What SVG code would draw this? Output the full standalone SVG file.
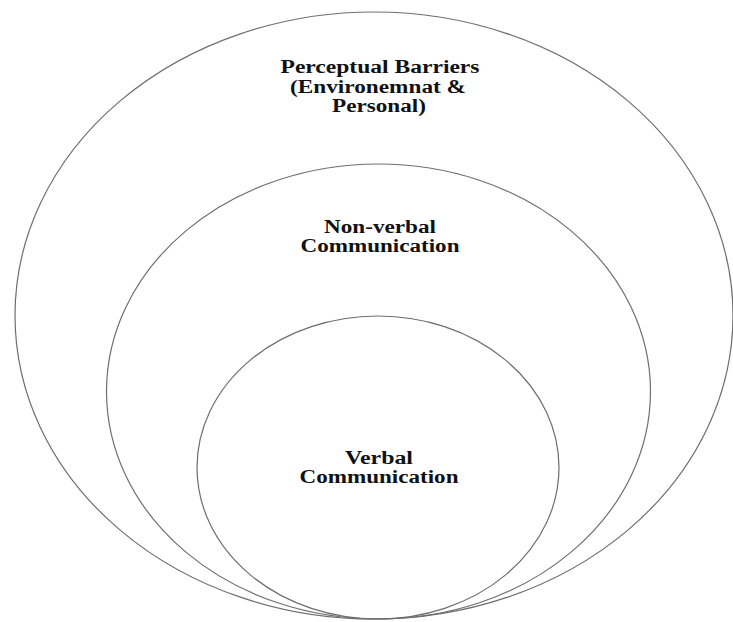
<svg xmlns="http://www.w3.org/2000/svg" width="733" height="622" viewBox="0 0 733 622">
<style>
.ring{fill:none;stroke:#6e6e6e;stroke-width:1.2}
.lbl{font-family:"Liberation Serif","Times New Roman",serif;font-weight:bold;font-size:18px;fill:#111;text-anchor:middle}
</style>
<rect width="733" height="622" fill="#fff"/>
<g id="outer">
<ellipse class="ring" cx="374" cy="315.5" rx="359" ry="303.5"/>
<text class="lbl" x="380" y="73" textLength="199" lengthAdjust="spacingAndGlyphs">Perceptual Barriers</text>
<text class="lbl" x="378" y="93" textLength="176" lengthAdjust="spacingAndGlyphs">(Environemnat &amp;</text>
<text class="lbl" x="379" y="112" textLength="94" lengthAdjust="spacingAndGlyphs">Personal)</text>
</g>
<g id="middle">
<ellipse class="ring" cx="378.5" cy="391.5" rx="272" ry="227.5"/>
<text class="lbl" x="380" y="233" textLength="112" lengthAdjust="spacingAndGlyphs">Non-verbal</text>
<text class="lbl" x="380" y="252" textLength="159" lengthAdjust="spacingAndGlyphs">Communication</text>
</g>
<g id="inner">
<ellipse class="ring" cx="378" cy="467.5" rx="181" ry="151.5"/>
<text class="lbl" x="379" y="464" textLength="68" lengthAdjust="spacingAndGlyphs">Verbal</text>
<text class="lbl" x="379" y="483" textLength="159" lengthAdjust="spacingAndGlyphs">Communication</text>
</g>
<g id="connectors"/>
</svg>
